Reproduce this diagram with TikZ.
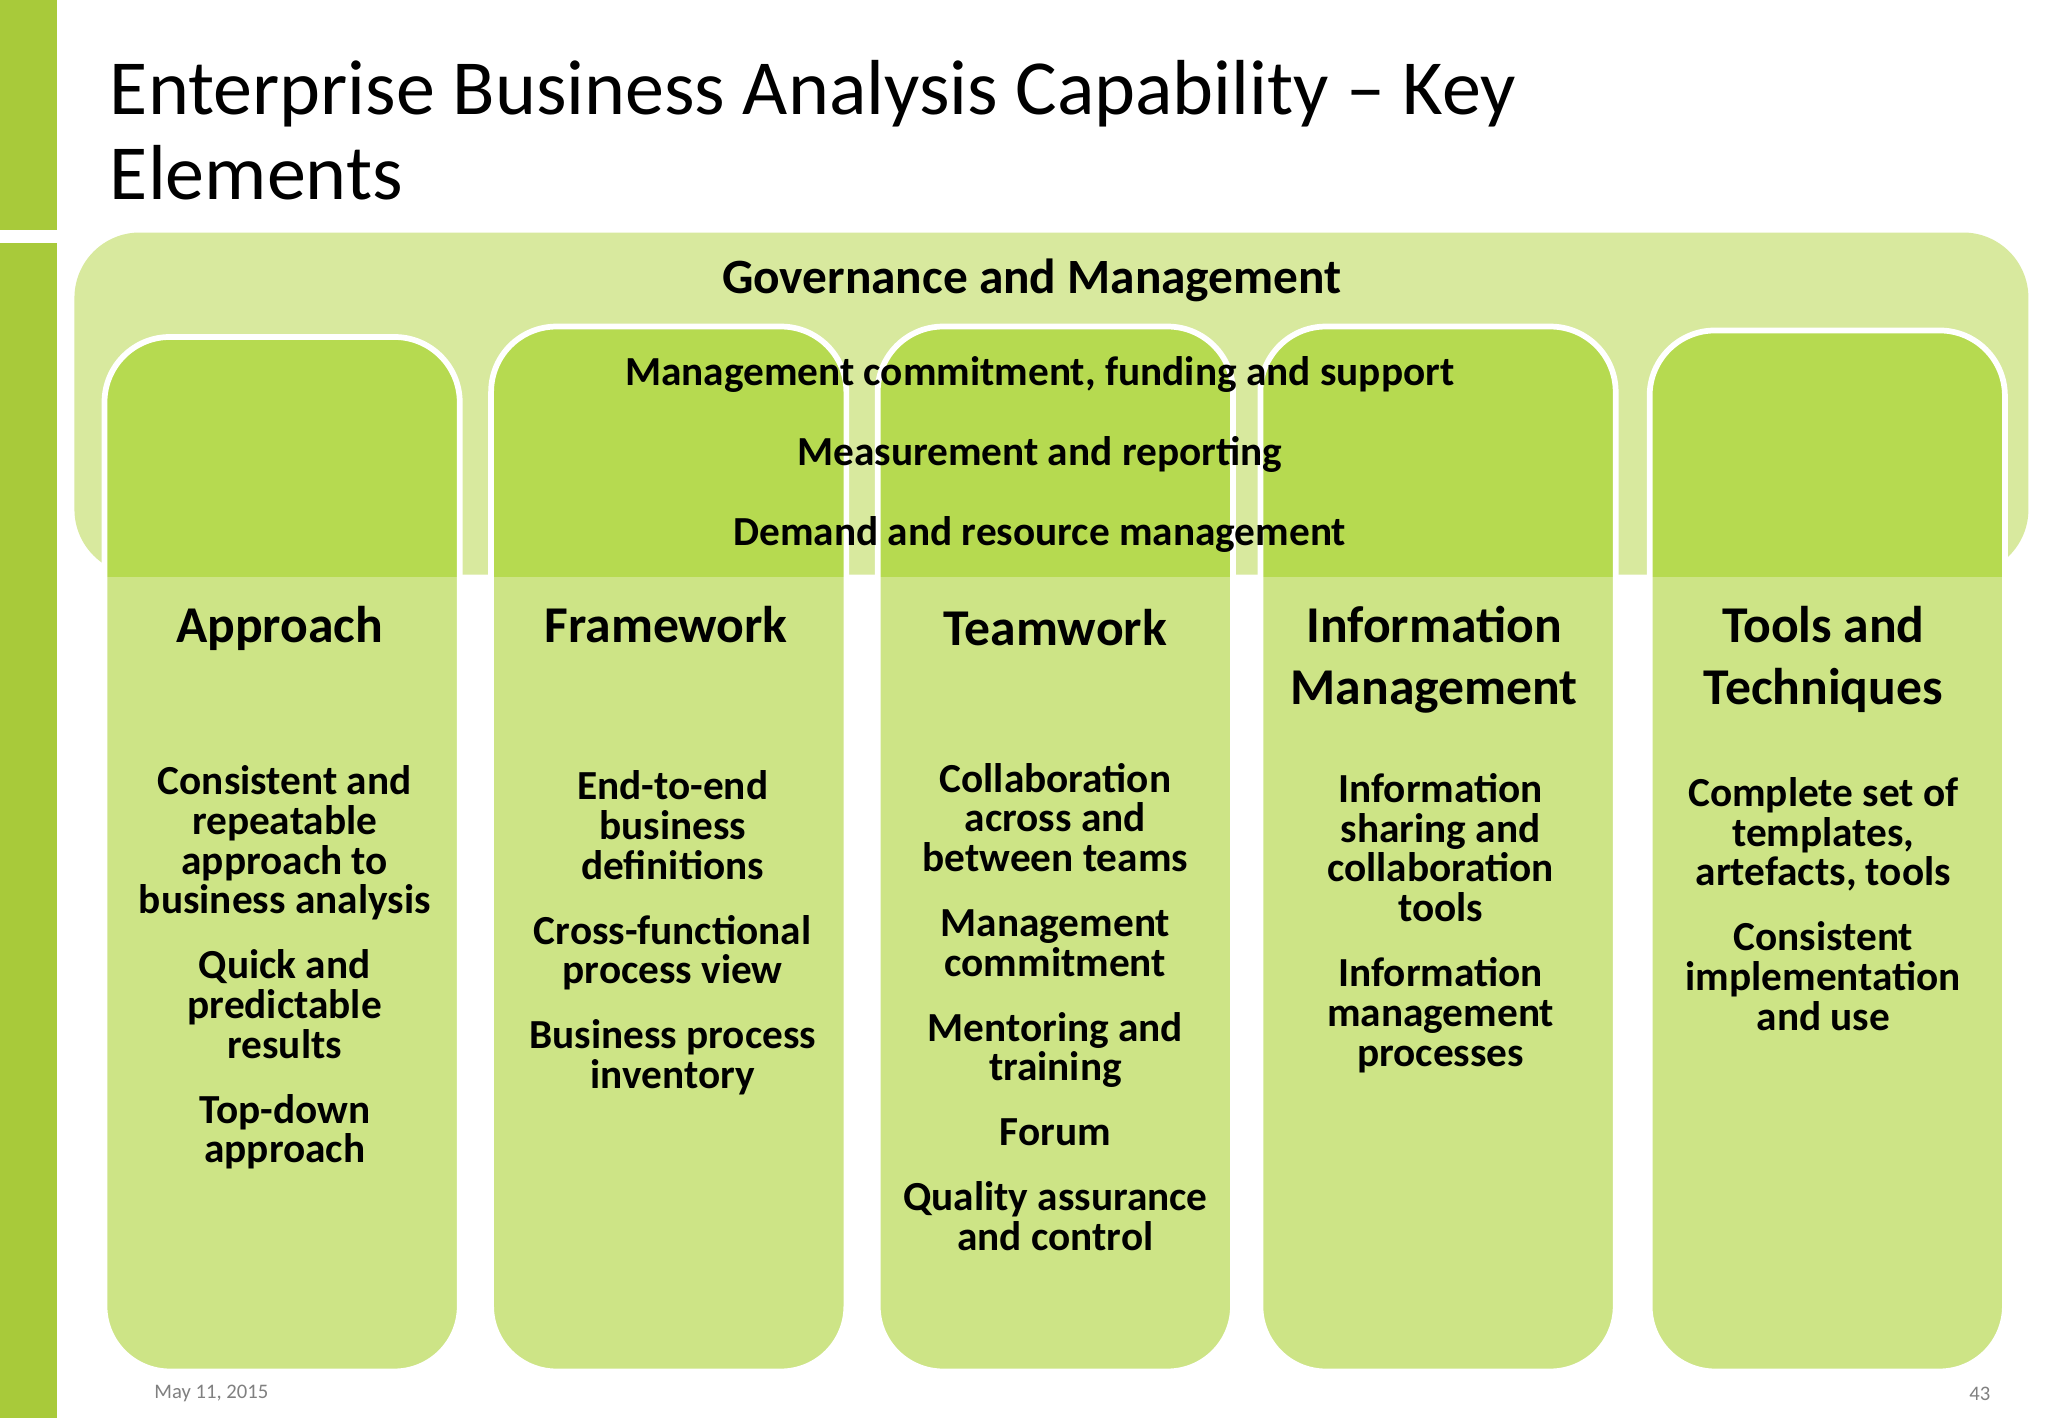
\documentclass[tikz,border=0pt]{standalone}
\usepackage{fontspec}
\setmainfont{Carlito}
\definecolor{barg}{HTML}{A8CA3A}
\definecolor{govg}{HTML}{D8E99E}
\definecolor{topg}{HTML}{B6DA50}
\definecolor{colg}{HTML}{CDE486}
\begin{document}
\begin{tikzpicture}[x=0.02cm,y=-0.02cm,
 body/.style={font=\bfseries\fontsize{18}{17.3}\selectfont,align=center,anchor=north},
 head/.style={font=\bfseries\fontsize{22.5}{27}\selectfont,align=center,anchor=north},
 gline/.style={font=\bfseries\fontsize{18}{20}\selectfont}]
\useasboundingbox (0,0) rectangle (1568,1086);
\fill[white] (0,0) rectangle (1568,1086);
\fill[barg] (0,0) rectangle (44,176);
\fill[barg] (0,186) rectangle (44,1086);
\node[anchor=north west,align=left,font=\fontsize{34}{37}\selectfont] (title) at (78,40) {Enterprise Business Analysis Capability -- Key\\Elements};
\fill[govg,rounded corners=1cm] (57,178) rectangle (1553,440);
\foreach \n/\xa/\ya/\xb in {1/80/258/352,2/376/250/648,3/672/250/944,4/965/250/1237,5/1263/253/1535}{
 \begin{scope}
 \clip[rounded corners=1cm] (\xa,\ya) rectangle (\xb,1050);
 \fill[colg] (\xa,\ya) rectangle (\xb,1050);
 \fill[topg] (\xa,\ya) rectangle (\xb,442);
 \end{scope}
 \draw[white,line width=2.5pt,rounded corners=1cm] (\xa,\ya) rectangle (\xb,1050);
}
\node[font=\bfseries\fontsize{21.5}{24}\selectfont] (gov) at (790,215) {Governance and Management};
\node[gline] (g1) at (796,287) {Management commitment, funding and support};
\node[gline] (g2) at (796,348) {Measurement and reporting};
\node[gline] (g3) at (796,409) {Demand and resource management};
\node[head] (h1) at (214,458) {Approach};
\node[head] (h2) at (510,458) {Framework};
\node[head] (h3) at (808,460) {Teamwork};
\node[head] (h4) at (1098,458) {Information\\Management};
\node[head] (h5) at (1396,458) {Tools and\\Techniques};
\node[body] (b1) at (218,580) {Consistent and\\repeatable\\approach to\\business analysis\\[11pt]Quick and\\predictable\\results\\[11pt]Top-down\\approach};
\node[body] (b2) at (515,584) {End-to-end\\business\\definitions\\[11pt]Cross-functional\\process view\\[11pt]Business process\\inventory};
\node[body] (b3) at (808,578) {Collaboration\\across and\\between teams\\[11pt]Management\\commitment\\[11pt]Mentoring and\\training\\[11pt]Forum\\[11pt]Quality assurance\\and control};
\node[body] (b4) at (1103,586) {Information\\sharing and\\collaboration\\tools\\[11pt]Information\\management\\processes};
\node[body] (b5) at (1396,589) {Complete set of\\templates,\\artefacts, tools\\[11pt]Consistent\\implementation\\and use};
\node[anchor=west,text=gray,font=\fontsize{9}{10}\selectfont] (date) at (112,1067) {May 11, 2015};
\node[anchor=east,text=gray,font=\fontsize{9}{10}\selectfont] (pg) at (1530,1067) {43};
\end{tikzpicture}
\end{document}
